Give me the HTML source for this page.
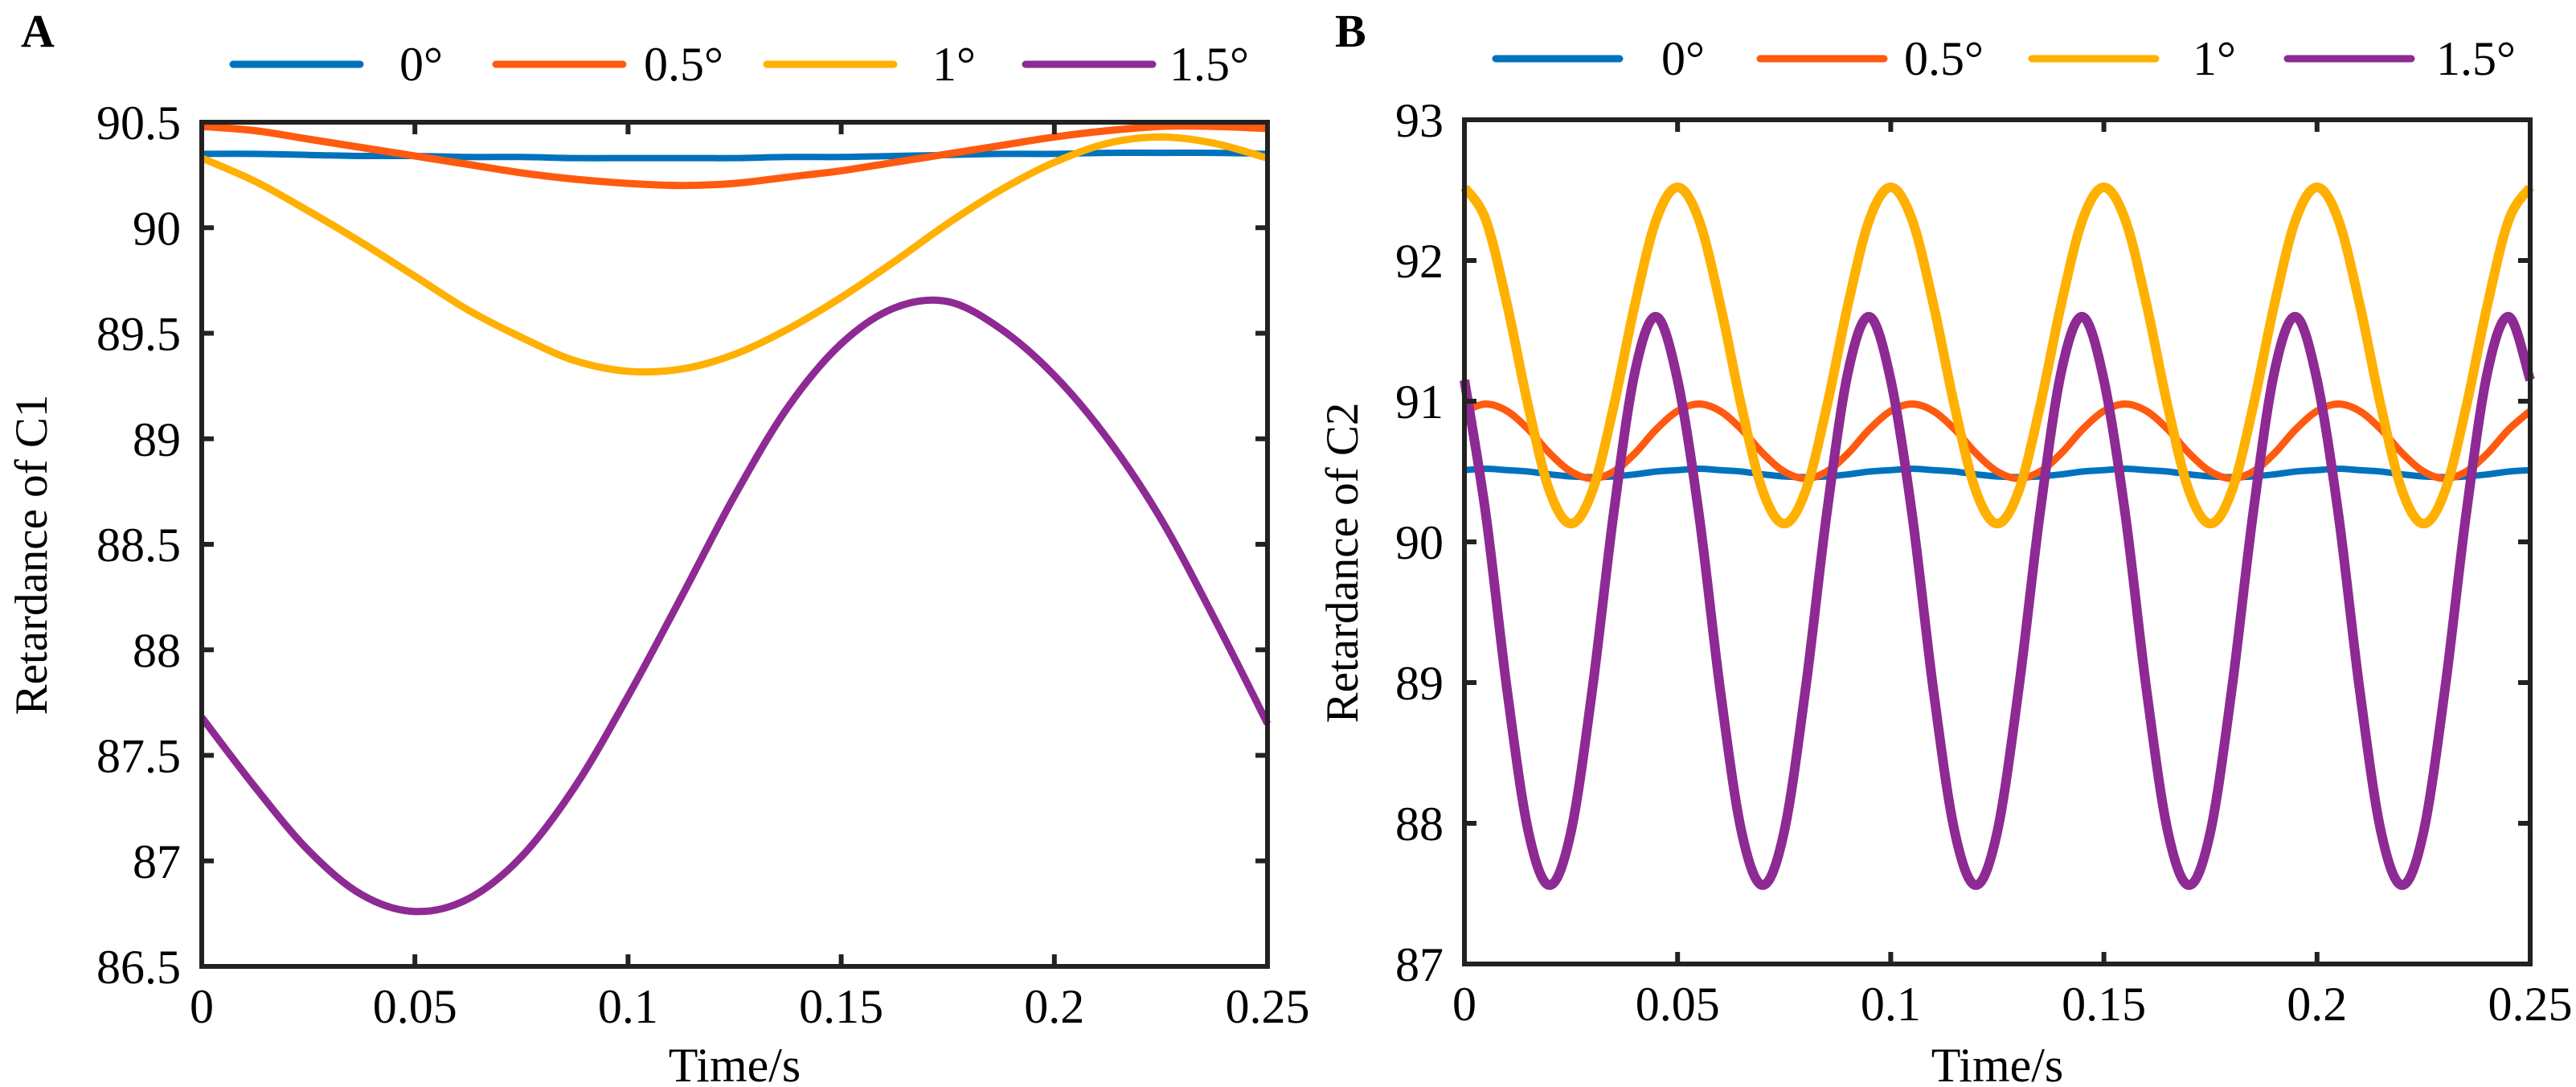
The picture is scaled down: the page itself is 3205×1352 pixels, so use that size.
<!DOCTYPE html>
<html><head><meta charset="utf-8"><style>
html,body{margin:0;padding:0;background:#fff;}
svg{display:block;font-family:"Liberation Serif","DejaVu Serif",serif;}
</style></head><body>
<svg id="fig" width="3205" height="1352" viewBox="0 0 3205 1352" xmlns="http://www.w3.org/2000/svg">
<text x="26" y="58" font-size="58" font-weight="bold">A</text>
<text x="1661" y="58" font-size="58" font-weight="bold">B</text>
</svg>
<script>
const seriesNames = ["0°","0.5°","1°","1.5°"];
const colors = ["#0072bd","#ff5a0f","#ffb000","#8e2a93"];
const timeA = [0,0.0125,0.025,0.0375,0.05,0.0625,0.075,0.0875,0.1,0.1125,0.125,0.1375,0.15,0.1625,0.175,0.1875,0.2,0.2125,0.225,0.2375,0.25];
const a0 = [90.35,90.35,90.345,90.34,90.34,90.335,90.335,90.33,90.33,90.33,90.33,90.335,90.335,90.34,90.345,90.35,90.35,90.355,90.355,90.355,90.35];
const a05 = [90.48,90.46,90.42,90.38,90.34,90.30,90.26,90.23,90.21,90.20,90.21,90.24,90.27,90.31,90.35,90.39,90.43,90.46,90.48,90.48,90.47];
const a1 = [90.33,90.22,90.08,89.93,89.77,89.61,89.48,89.37,89.32,89.33,89.40,89.52,89.67,89.84,90.02,90.18,90.31,90.40,90.43,90.40,90.33];
const a15 = [87.68,87.35,87.05,86.84,86.76,86.82,87.02,87.35,87.78,88.25,88.73,89.15,89.45,89.62,89.65,89.52,89.30,89.00,88.62,88.15,87.65];
const timeB = [0,0.005,0.01,0.015,0.02,0.025,0.03,0.035,0.04,0.045,0.05,0.055,0.06,0.065,0.07,0.075,0.08,0.085,0.09,0.095,0.1,0.105,0.11,0.115,0.12,0.125,0.13,0.135,0.14,0.145,0.15,0.155,0.16,0.165,0.17,0.175,0.18,0.185,0.19,0.195,0.2,0.205,0.21,0.215,0.22,0.225,0.23,0.235,0.24,0.245,0.25];
const b0 = [90.51,90.52,90.51,90.50,90.48,90.465,90.46,90.465,90.48,90.50,90.51,90.52,90.51,90.50,90.48,90.465,90.46,90.465,90.48,90.50,90.51,90.52,90.51,90.50,90.48,90.465,90.46,90.465,90.48,90.50,90.51,90.52,90.51,90.50,90.48,90.465,90.46,90.465,90.48,90.50,90.51,90.52,90.51,90.50,90.48,90.465,90.46,90.465,90.48,90.50,90.51];
const b05 = [90.93,90.98,90.93,90.80,90.63,90.50,90.45,90.50,90.63,90.80,90.93,90.98,90.93,90.80,90.63,90.50,90.45,90.50,90.63,90.80,90.93,90.98,90.93,90.80,90.63,90.50,90.45,90.50,90.63,90.80,90.93,90.98,90.93,90.80,90.63,90.50,90.45,90.50,90.63,90.80,90.93,90.98,90.93,90.80,90.63,90.50,90.45,90.50,90.63,90.80,90.93];
const b1 = [92.52,92.29,91.69,90.96,90.36,90.13,90.36,90.96,91.69,92.29,92.52,92.29,91.69,90.96,90.36,90.13,90.36,90.96,91.69,92.29,92.52,92.29,91.69,90.96,90.36,90.13,90.36,90.96,91.69,92.29,92.52,92.29,91.69,90.96,90.36,90.13,90.36,90.96,91.69,92.29,92.52,92.29,91.69,90.96,90.36,90.13,90.36,90.96,91.69,92.29,92.52];
const b15 = [91.15,90.20,88.95,87.94,87.56,87.94,88.95,90.20,91.21,91.60,91.15,90.20,88.95,87.94,87.56,87.94,88.95,90.20,91.21,91.60,91.15,90.20,88.95,87.94,87.56,87.94,88.95,90.20,91.21,91.60,91.15,90.20,88.95,87.94,87.56,87.94,88.95,90.20,91.21,91.60,91.15,90.20,88.95,87.94,87.56,87.94,88.95,90.20,91.21,91.60,91.15];
const xTicks = [0,0.05,0.1,0.15,0.2,0.25];
const xTickLabels = ["0","0.05","0.1","0.15","0.2","0.25"];
const yTicksA = [86.5,87,87.5,88,88.5,89,89.5,90,90.5];
const yTickLabelsA = ["86.5","87","87.5","88","88.5","89","89.5","90","90.5"];
const yTicksB = [87,88,89,90,91,92,93];
const yTickLabelsB = ["87","88","89","90","91","92","93"];

const NS="http://www.w3.org/2000/svg";
const svg=document.getElementById('fig');
function mk(tag,attrs,parent){const e=document.createElementNS(NS,tag);for(const k in attrs)e.setAttribute(k,attrs[k]);(parent||svg).appendChild(e);return e;}
function smooth(pts){let d=`M${pts[0][0]},${pts[0][1]}`;for(let i=0;i<pts.length-1;i++){const p0=pts[i-1]||pts[i],p1=pts[i],p2=pts[i+1],p3=pts[i+2]||p2;
const c1x=p1[0]+(p2[0]-p0[0])/6,c1y=p1[1]+(p2[1]-p0[1])/6,c2x=p2[0]-(p3[0]-p1[0])/6,c2y=p2[1]-(p3[1]-p1[1])/6;
d+=` C${c1x.toFixed(1)},${c1y.toFixed(1)} ${c2x.toFixed(1)},${c2y.toFixed(1)} ${p2[0].toFixed(1)},${p2[1].toFixed(1)}`;}return d;}

function panel(key,box,yMin,yMax,yTicks,yLabels,times,series,widths,yTitle,leg){
  const g=mk('g',{});
  
  
  const xs=t=>box.l+(t-0)/(0.25)*(box.r-box.l);
  const ys=v=>box.b-(v-yMin)/(yMax-yMin)*(box.b-box.t);
  // series
  series.forEach((vals,si)=>{
    const pts=times.map((t,i)=>[xs(t),ys(vals[i])]);
    const p=mk('path',{d:smooth(pts),fill:'none',stroke:colors[si],'stroke-width':widths[si],'stroke-linejoin':'round'},g);
    
    
  });
  // frame
  const f=mk('rect',{x:box.l,y:box.t,width:box.r-box.l,height:box.b-box.t,fill:'none',stroke:'#222','stroke-width':6},g);
  
  
  xTicks.forEach((t,i)=>{
    const x=xs(t);
    mk('line',{x1:x,y1:box.b,x2:x,y2:box.b-15,stroke:'#222','stroke-width':6},g);
    mk('line',{x1:x,y1:box.t,x2:x,y2:box.t+15,stroke:'#222','stroke-width':6},g);
    const tx=mk('text',{x:x,y:box.b+70,'font-size':60,'text-anchor':'middle'},g);
    tx.textContent=xTickLabels[i];
    
    
  });
  yTicks.forEach((v,i)=>{
    const y=ys(v);
    mk('line',{x1:box.l,y1:y,x2:box.l+15,y2:y,stroke:'#222','stroke-width':6},g);
    mk('line',{x1:box.r,y1:y,x2:box.r-15,y2:y,stroke:'#222','stroke-width':6},g);
    const tx=mk('text',{x:box.l-26,y:y+21,'font-size':60,'text-anchor':'end'},g);
    tx.textContent=yLabels[i];
    
    
  });
  const xt=mk('text',{x:(box.l+box.r)/2,y:1345,'font-size':60,'text-anchor':'middle'},g);
  xt.textContent='Time/s';
  
  
  const yt=mk('text',{x:0,y:0,'font-size':57,'text-anchor':'middle',transform:`translate(${yTitle.x},${yTitle.y}) rotate(-90)`},g);
  yt.textContent=yTitle.text;
  
  
  leg.forEach((L,i)=>{
    const lg=mk('g',{},g);
    
    
    mk('line',{x1:L[0],y1:L[3],x2:L[1],y2:L[3],stroke:colors[i],'stroke-width':9,'stroke-linecap':'round'},lg);
    const t=mk('text',{x:L[2],y:L[3]+20,'font-size':60},lg);
    t.textContent=seriesNames[i];
  });
}
panel('a',{l:251,r:1577,t:152,b:1202},86.5,90.5,yTicksA,yTickLabelsA,timeA,[a0,a05,a1,a15],[8,9,9,9],{x:58,y:690,text:'Retardance of C1'},
  [[290,448,497,80],[617,775,801,80],[954,1112,1160,80],[1276,1434,1455,80]]);
panel('b',{l:1822,r:3148,t:149,b:1199},87,93,yTicksB,yTickLabelsB,timeB,[b0,b05,b1,b15],[8,9,12,12],{x:1689,y:700,text:'Retardance of C2'},
  [[1861,2015,2067,73],[2190,2344,2369,73],[2528,2682,2728,73],[2846,3000,3031,73]]);
</script>
</body></html>
